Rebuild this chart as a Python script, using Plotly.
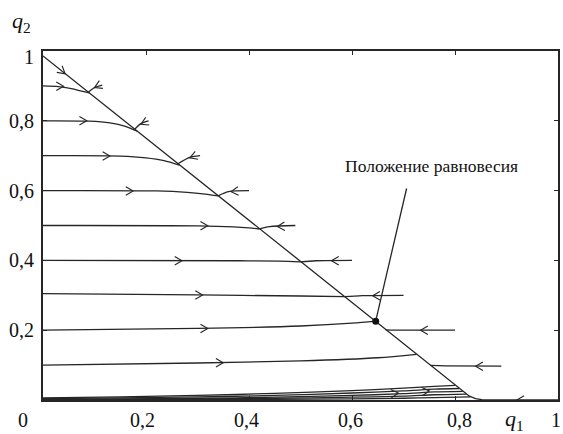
import math
import plotly.graph_objects as go

# ---------------- data ----------------
# slow manifold / main trajectory: from (0,1) down to equilibrium, and from (1,0) back along the axis
main_q1 = [0.0, 0.1, 0.2, 0.3, 0.4, 0.5, 0.6, 0.646, 0.7, 0.75, 0.8, 0.815, 0.828, 0.84, 0.852, 0.865, 0.9, 1.0]
main_q2 = [0.986, 0.868, 0.75, 0.632, 0.514, 0.396, 0.278, 0.226, 0.16, 0.101, 0.042, 0.024, 0.011, 0.004, 0.001, 0.0, 0.0, 0.0]

# trajectories starting at q1 = 0 (moving right)
r90_q1 = [0.0, 0.03, 0.055, 0.075, 0.09]
r90_q2 = [0.9, 0.898, 0.892, 0.885, 0.88]
r80_q1 = [0.0, 0.09, 0.13, 0.16, 0.183]
r80_q2 = [0.8, 0.799, 0.794, 0.784, 0.77]
r70_q1 = [0.0, 0.15, 0.2, 0.235, 0.265]
r70_q2 = [0.7, 0.699, 0.694, 0.686, 0.673]
r60_q1 = [0.0, 0.22, 0.28, 0.315, 0.34]
r60_q2 = [0.6, 0.599, 0.595, 0.59, 0.585]
r50_q1 = [0.0, 0.3, 0.37, 0.4, 0.42]
r50_q2 = [0.5, 0.499, 0.496, 0.493, 0.49]
r40_q1 = [0.0, 0.38, 0.46, 0.5]
r40_q2 = [0.4, 0.399, 0.398, 0.396]
r30_q1 = [0.0, 0.3, 0.5, 0.585]
r30_q2 = [0.305, 0.301, 0.298, 0.296]
r20_q1 = [0.0, 0.3, 0.5, 0.6, 0.646]
r20_q2 = [0.2, 0.205, 0.212, 0.22, 0.226]
r10_q1 = [0.0, 0.3, 0.5, 0.65, 0.725]
r10_q2 = [0.1, 0.106, 0.112, 0.121, 0.131]

# trajectories starting on the right (moving left)
l90_q1 = [0.115, 0.1, 0.088]
l90_q2 = [0.902, 0.895, 0.882]
l80_q1 = [0.205, 0.19, 0.178]
l80_q2 = [0.8, 0.792, 0.776]
l70_q1 = [0.305, 0.285, 0.262]
l70_q2 = [0.7, 0.695, 0.677]
l60_q1 = [0.4, 0.36, 0.34]
l60_q2 = [0.6, 0.597, 0.585]
l50_q1 = [0.49, 0.44, 0.42]
l50_q2 = [0.5, 0.497, 0.49]
l40_q1 = [0.6, 0.53, 0.5]
l40_q2 = [0.4, 0.399, 0.396]
l30_q1 = [0.7, 0.62, 0.585]
l30_q2 = [0.3, 0.299, 0.296]
l20_q1 = [0.8, 0.7, 0.665]
l20_q2 = [0.2, 0.2, 0.201]
l10_q1 = [0.89, 0.78, 0.752]
l10_q2 = [0.097, 0.098, 0.099]

# bundle of trajectories close to the q1 axis
bundle_q1 = [0.0, 0.15, 0.3, 0.45, 0.6, 0.7, 0.76]
b1_q2 = [0.006, 0.009, 0.013, 0.019, 0.027, 0.034, 0.039]
b2_q2 = [0.004, 0.006, 0.009, 0.013, 0.02, 0.026, 0.031]
b3_q2 = [0.002, 0.003, 0.005, 0.008, 0.013, 0.018, 0.023]
b4_q2 = [0.001, 0.0015, 0.003, 0.005, 0.008, 0.011, 0.015]
b5_q2 = [0.0, 0.0005, 0.001, 0.002, 0.003, 0.005, 0.007]
bundle_end_q1 = [0.80, 0.808, 0.815, 0.822, 0.83]
bundle_end_q2 = [0.042, 0.033, 0.025, 0.017, 0.009]

# arrow marks: position and direction (degrees, screen sense)
arrow_q1 = [0.04, 0.085, 0.13, 0.175, 0.32, 0.27, 0.31, 0.32, 0.35,
            0.043,
            0.1, 0.19, 0.285, 0.365, 0.455, 0.56, 0.64, 0.733, 0.84,
            0.92, 0.69, 0.75]
arrow_q2 = [0.899, 0.8, 0.699, 0.599, 0.499, 0.399, 0.301, 0.205, 0.107,
            0.935,
            0.895, 0.79, 0.694, 0.597, 0.497, 0.399, 0.299, 0.2, 0.097,
            0.0, 0.02, 0.026]
arrow_dir = [0, 0, 0, 0, 0, 0, 0, 0, 0,
             -39,
             205, 205, 200, 185, 183, 180, 180, 180, 180,
             180, 5, 5]

eq_q1 = [0.646]
eq_q2 = [0.226]
label_text = "Положение равновесия"
label_q1 = 0.754
label_q2 = 0.671
pointer_q1 = [0.706, 0.646]
pointer_q2 = [0.606, 0.226]

x_ticks = [0.0, 0.2, 0.4, 0.6, 0.8, 1.0]
x_ticktext = ["0", "0,2", "0,4", "0,6", "0,8", "1"]
y_ticks = [0.2, 0.4, 0.6, 0.8, 1.0]
y_ticktext = ["0,2", "0,4", "0,6", "0,8", "1"]

# ---------------- figure ----------------
W, H = 563, 434
ML, MR, MT, MB = 43, 3, 51, 34
PW, PH = W - ML - MR, H - MT - MB

INK = "#262626"
TXT = "#111111"
LW = 1.3
FONT = "Liberation Serif"

fig = go.Figure()


def add_line(xs, ys, shape="spline"):
    fig.add_trace(go.Scatter(x=xs, y=ys, mode="lines",
                             line=dict(color=INK, width=LW, shape=shape, smoothing=0.8),
                             hoverinfo="skip", showlegend=False))


add_line(main_q1, main_q2, shape="linear")
for xs, ys in [(r90_q1, r90_q2), (r80_q1, r80_q2), (r70_q1, r70_q2), (r60_q1, r60_q2),
               (r50_q1, r50_q2), (r40_q1, r40_q2), (r30_q1, r30_q2), (r20_q1, r20_q2),
               (r10_q1, r10_q2),
               (l90_q1, l90_q2), (l80_q1, l80_q2), (l70_q1, l70_q2), (l60_q1, l60_q2),
               (l50_q1, l50_q2), (l40_q1, l40_q2), (l30_q1, l30_q2), (l20_q1, l20_q2),
               (l10_q1, l10_q2)]:
    add_line(xs, ys)

for i, bq2 in enumerate([b1_q2, b2_q2, b3_q2, b4_q2, b5_q2]):
    add_line(bundle_q1 + [bundle_end_q1[i]], bq2 + [bundle_end_q2[i]])

# chevron arrow marks
L_PX, HALF = 8.5, 30
cx, cy = [], []
for x0, y0, d in zip(arrow_q1, arrow_q2, arrow_dir):
    a1 = math.radians(d + 180 + HALF)
    a2 = math.radians(d + 180 - HALF)
    cx += [x0 + L_PX * math.cos(a1) / PW, x0, x0 + L_PX * math.cos(a2) / PW, None]
    cy += [y0 + L_PX * math.sin(a1) / PH, y0, y0 + L_PX * math.sin(a2) / PH, None]
fig.add_trace(go.Scatter(x=cx, y=cy, mode="lines", line=dict(color=INK, width=1.1),
                         hoverinfo="skip", showlegend=False, cliponaxis=False))

# pointer and equilibrium point
fig.add_trace(go.Scatter(x=pointer_q1, y=pointer_q2, mode="lines",
                         line=dict(color=INK, width=1.3), hoverinfo="skip", showlegend=False))
fig.add_trace(go.Scatter(x=eq_q1, y=eq_q2, mode="markers",
                         marker=dict(color="#111", size=7), hoverinfo="skip", showlegend=False))

fig.add_annotation(x=label_q1, y=label_q2, text=label_text, showarrow=False,
                   xanchor="center", yanchor="middle",
                   font=dict(family=FONT, size=17.5, color=TXT))

# tick labels (as in the original: "0" sits left of the origin)
x_label_shift = [-20, -4, -3, -2, 4, -2]
for v, t, s in zip(x_ticks, x_ticktext, x_label_shift):
    fig.add_annotation(x=v, y=0, xref="x", yref="paper", text=t, showarrow=False,
                       xanchor="center", yanchor="middle", xshift=s, yshift=-20,
                       font=dict(family=FONT, size=20, color=TXT))
for v, t in zip(y_ticks, y_ticktext):
    fig.add_annotation(x=0, y=v, xref="paper", yref="y", text=t, showarrow=False,
                       xanchor="right", yanchor="middle", xshift=-7,
                       yshift=(-6 if v == 1.0 else 0),
                       font=dict(family=FONT, size=20, color=TXT))

fig.add_annotation(x=0.9, y=0, xref="x", yref="paper", text="<i>q</i><sub>1</sub>",
                   showarrow=False, xanchor="center", yanchor="middle", xshift=8, yshift=-20,
                   font=dict(family=FONT, size=22, color=TXT))
fig.add_annotation(x=0, y=1, xref="paper", yref="paper", text="<i>q</i><sub>2</sub>",
                   showarrow=False, xanchor="center", yanchor="middle", xshift=-22, yshift=29,
                   font=dict(family=FONT, size=22, color=TXT))

axis_common = dict(range=[0, 1], showgrid=False, zeroline=False, showline=True, mirror="allticks",
                   linecolor=INK, linewidth=1.5, ticks="inside", ticklen=4, tickcolor=INK,
                   showticklabels=False, fixedrange=True)
fig.update_xaxes(**axis_common, tickvals=x_ticks)
fig.update_yaxes(**axis_common, tickvals=y_ticks)

fig.update_layout(width=W, height=H, margin=dict(l=ML, r=MR, t=MT, b=MB),
                  paper_bgcolor="white", plot_bgcolor="white", showlegend=False)

# remove the default page margin so the figure sits at the window's top-left corner
page_fix = ("document.body.style.margin='0';document.body.style.overflow='hidden';"
            "document.documentElement.style.overflow='hidden';")
fig.write_html("out.html", post_script=page_fix, config={"displayModeBar": False})
